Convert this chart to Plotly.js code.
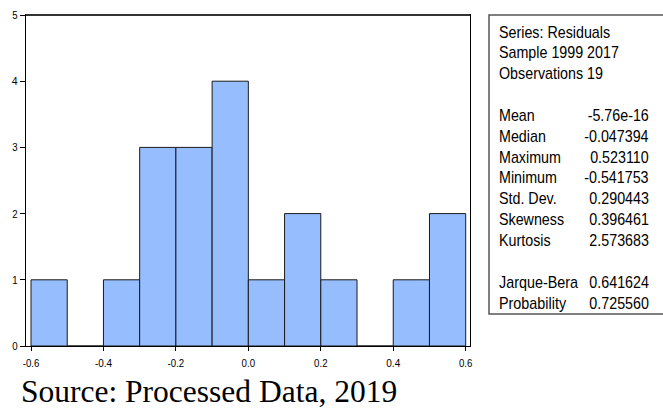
<!DOCTYPE html>
<html>
<head>
<meta charset="utf-8">
<script src="https://cdn.plot.ly/plotly-3.0.1.min.js"></script>
<style>html,body{margin:0;padding:0;background:#fff;}#chart{width:663px;height:410px;}</style>
</head>
<body>
<div id="chart"></div>
<script>
// ---- data ----
var binStarts = [-0.6, -0.5, -0.4, -0.3, -0.2, -0.1, 0.0, 0.1, 0.2, 0.3, 0.4, 0.5];
var binWidth = 0.1;
var counts = [1, 0, 1, 3, 3, 4, 1, 2, 1, 0, 1, 2];
var xTickVals = [-0.6, -0.4, -0.2, 0.0, 0.2, 0.4, 0.6];
var xTickText = ["-0.6", "-0.4", "-0.2", "0.0", "0.2", "0.4", "0.6"];
var yTickVals = [0, 1, 2, 3, 4, 5];
var headerLines = ["Series: Residuals", "Sample 1999 2017", "Observations 19"];
var statLabels = ["Mean", "Median", "Maximum", "Minimum", "Std. Dev.", "Skewness", "Kurtosis"];
var statValues = ["-5.76e-16", "-0.047394", "0.523110", "-0.541753", "0.290443", "0.396461", "2.573683"];
var testLabels = ["Jarque-Bera", "Probability"];
var testValues = ["0.641624", "0.725560"];
var sourceText = "Source: Processed Data, 2019";

// ---- layout helpers (pixel -> paper) ----
var W = 663, H = 410;
var L = 26, R = 470, T = 15, B = 346;
function px(x) { return (x - L) / (R - L); }
function py(y) { return (B - y) / (B - T); }

var centers = binStarts.map(function (s) { return s + binWidth / 2; });

var sans = "Arial, 'Liberation Sans', sans-serif";
var statSize = 17;
var NARROW = 0.84; // horizontal squeeze to imitate a narrow sans face

var trace = {
  type: 'bar',
  x: centers,
  y: counts,
  width: binWidth,
  marker: { color: '#96BEFF', line: { color: '#1a1a1a', width: 1 } },
  hoverinfo: 'x+y'
};

var annotations = [];
function addText(t, x, y, anchor) {
  annotations.push({ xref: 'paper', yref: 'paper', x: px(x), y: py(y),
    xanchor: anchor, yanchor: 'middle', align: anchor, text: t, showarrow: false,
    font: { family: sans, size: statSize, color: '#000' } });
}
var step = 20.85, y0 = 32, valRight = 651;
headerLines.forEach(function (t, i) { addText(t, 497, y0 + i * step, 'left'); });
statLabels.forEach(function (t, i) {
  var yy = y0 + (i + 4) * step;
  addText(t, 497, yy, 'left');
  addText(statValues[i], valRight, yy, 'right');
});
testLabels.forEach(function (t, i) {
  var yy = y0 + (i + 12) * step;
  addText(t, 497, yy, 'left');
  addText(testValues[i], valRight, yy, 'right');
});
var nStat = annotations.length;
annotations.push({ xref: 'paper', yref: 'paper', x: px(19), y: py(391),
  xanchor: 'left', yanchor: 'middle', text: sourceText, showarrow: false,
  font: { family: "'Liberation Serif', 'Times New Roman', serif", size: 31.5, color: '#000' } });

var layout = {
  width: W, height: H,
  margin: { l: L, r: W - R, t: T, b: H - B, pad: 0 },
  paper_bgcolor: '#fff', plot_bgcolor: '#fff',
  showlegend: false,
  bargap: 0,
  xaxis: {
    range: [-0.6138, 0.6119], tickvals: xTickVals, ticktext: xTickText,
    ticks: 'outside', ticklen: 4, tickwidth: 1, tickcolor: '#000',
    showline: true, linecolor: '#000', linewidth: 1, mirror: true,
    showgrid: false, zeroline: false, ticklabelstandoff: 2,
    tickfont: { family: sans, size: 11.5, color: '#000' }
  },
  yaxis: {
    range: [0, 5], tickvals: yTickVals,
    ticks: 'outside', ticklen: 5, tickwidth: 1, tickcolor: '#000',
    showline: true, linecolor: '#000', linewidth: 1, mirror: true,
    showgrid: false, zeroline: false,
    tickfont: { family: sans, size: 11.5, color: '#000' }
  },
  shapes: [
    { type: 'line', xref: 'paper', yref: 'paper', x0: 0, x1: 1, y0: 1, y1: 1,
      line: { color: '#333', width: 2 } },
    { type: 'rect', xref: 'paper', yref: 'paper', x0: px(489), x1: px(668), y0: py(314), y1: py(15),
      line: { color: '#555', width: 1.5 }, fillcolor: 'rgba(0,0,0,0)' }
  ],
  annotations: annotations
};

function squeeze(el, k, mode) {
  var bb = el.getBBox();
  if (!bb.width) return;
  if (mode === 'left' || mode === 'right') {
    var xNew = mode === 'left' ? bb.x : bb.x + bb.width;
    el.setAttribute('text-anchor', mode === 'left' ? 'start' : 'end');
    el.setAttribute('x', xNew);
    el.querySelectorAll('tspan[x]').forEach(function (t) { t.setAttribute('x', xNew); });
  }
  el.setAttribute('textLength', bb.width * k);
  el.setAttribute('lengthAdjust', 'spacingAndGlyphs');
}

Plotly.newPlot('chart', [trace], layout, { displayModeBar: false, staticPlot: true }).then(function (gd) {
  gd.querySelectorAll('g.annotation').forEach(function (g) {
    var idx = +g.getAttribute('data-index');
    if (idx >= nStat) return;
    var txt = g.querySelector('text');
    if (txt) squeeze(txt, NARROW, annotations[idx].xanchor);
  });
  gd.querySelectorAll('g.xtick text, g.ytick text').forEach(function (t) { squeeze(t, NARROW, null); });
});
</script>
</body>
</html>
